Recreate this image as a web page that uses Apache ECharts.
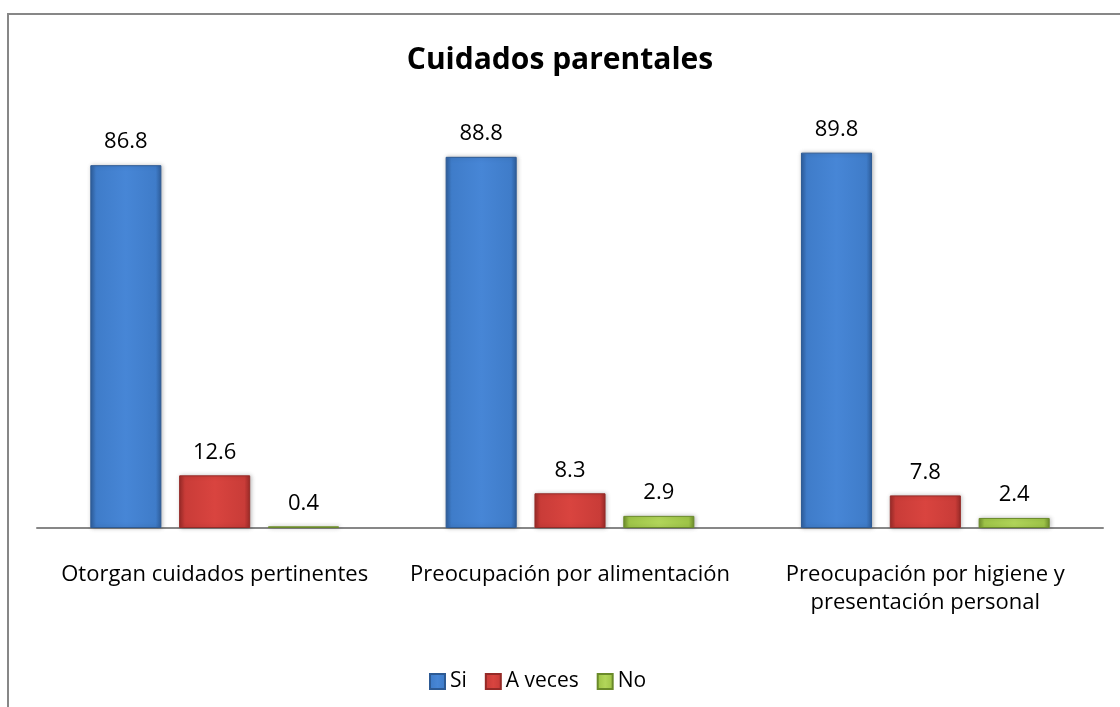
<!DOCTYPE html>
<html>
<head>
<meta charset="utf-8">
<script src="https://cdn.jsdelivr.net/npm/echarts@6/dist/echarts.min.js"></script>
<style>
  html, body { margin: 0; padding: 0; background: #fff; }
  #chart { width: 1120px; height: 707px; }
</style>
</head>
<body>
<div id="chart"></div>
<script>
const categories = ['Otorgan cuidados pertinentes', 'Preocupación por alimentación', 'Preocupación por higiene y\npresentación personal']
const seriesNames = ['Si', 'A veces', 'No']
const siValues = [86.8, 88.8, 89.8]
const aVecesValues = [12.6, 8.3, 7.8]
const noValues = [0.4, 2.9, 2.4]

const bevel = (light, mid, dark) => ({
  type: 'linear', x: 0, y: 0, x2: 1, y2: 0,
  colorStops: [
    { offset: 0, color: dark },
    { offset: 0.08, color: mid },
    { offset: 0.5, color: light },
    { offset: 0.92, color: mid },
    { offset: 1, color: dark }
  ]
})

const colors = [
  bevel('#4786d6', '#3f7cc9', '#2f5f9e'),
  bevel('#d9443f', '#c93c38', '#9c2b28'),
  bevel('#b2d65a', '#9fc548', '#6f8f2c')
]
const borderColors = ['#2d5a94', '#952a27', '#6a8a2a']

const labelFont = { fontFamily: 'Open Sans', fontSize: 22, color: '#000' }

const makeSeries = (name, data, i) => ({
  name: name,
  type: 'bar',
  data: data,
  barGap: '25%',
  barCategoryGap: '30%',
  itemStyle: {
    color: colors[i],
    borderColor: borderColors[i],
    borderWidth: 1,
    shadowColor: 'rgba(0,0,0,0.25)',
    shadowBlur: 4,
    shadowOffsetX: 1
  },
  label: Object.assign({ show: true, position: 'top', distance: 12 }, labelFont)
})

let chartDom = echarts.init(document.getElementById('chart'))
chartDom.setOption({
  animation: false,
  backgroundColor: '#fff',
  graphic: [{
    type: 'rect',
    shape: { x: 8, y: 14, width: 1300, height: 900 },
    style: { fill: 'none', stroke: '#878787', lineWidth: 2 },
    silent: true
  }],
  title: {
    text: 'Cuidados parentales',
    left: 'center',
    top: 40,
    textStyle: { fontFamily: 'Open Sans', fontWeight: 'bold', fontSize: 30, color: '#000' }
  },
  legend: {
    data: seriesNames,
    bottom: 10,
    left: 424,
    itemWidth: 15,
    itemHeight: 15,
    itemGap: 18,
    icon: 'rect',
    textStyle: { fontFamily: 'Open Sans', fontSize: 21, color: '#000' }
  },
  grid: { left: 37, right: 17, top: 110, bottom: 179 },
  xAxis: {
    type: 'category',
    data: categories,
    axisLine: { lineStyle: { color: '#878787', width: 2 } },
    axisTick: { show: false },
    axisLabel: Object.assign({ margin: 33, lineHeight: 28, interval: 0 }, labelFont)
  },
  yAxis: {
    type: 'value',
    min: 0,
    max: 100,
    show: false,
    splitLine: { show: false }
  },
  series: [
    makeSeries(seriesNames[0], siValues, 0),
    makeSeries(seriesNames[1], aVecesValues, 1),
    makeSeries(seriesNames[2], noValues, 2)
  ]
})
</script>
</body>
</html>
